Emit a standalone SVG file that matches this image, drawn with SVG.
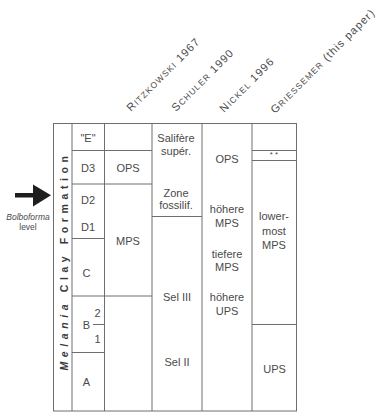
<svg xmlns="http://www.w3.org/2000/svg" width="378" height="415" viewBox="0 0 378 415">
<style>
.ln{stroke:#6e6e6e;stroke-width:1;fill:none}
.t{font-family:"Liberation Sans",Arial,sans-serif;font-size:11px;fill:#4a4a4a;text-anchor:middle}
.h{font-family:"Liberation Sans",Arial,sans-serif;font-size:11px;fill:#4a4a4a;letter-spacing:1.1px}
.sc{font-size:8.5px}
.side{font-family:"Liberation Sans",Arial,sans-serif;font-size:10.5px;font-weight:bold;fill:#3a3a3a;letter-spacing:4.6px;text-anchor:middle}
</style>
<rect width="378" height="415" fill="#ffffff"/>
<g id="headers">
<text class="h" transform="translate(131,112) rotate(-45)">R<tspan class="sc">ITZKOWSKI</tspan> 1967</text>
<text class="h" transform="translate(176,112) rotate(-45)">S<tspan class="sc">CHULER</tspan> 1990</text>
<text class="h" transform="translate(224,113) rotate(-45)">N<tspan class="sc">ICKEL</tspan> 1996</text>
<text class="h" transform="translate(275,114) rotate(-45)">G<tspan class="sc">RIESSEMER</tspan> (this paper)</text>
</g>
<g id="connectors">
<rect class="ln" x="53.5" y="123.5" width="243" height="287.5"/>
<line class="ln" x1="72" y1="123.5" x2="72" y2="411"/>
<line class="ln" x1="104.5" y1="123.5" x2="104.5" y2="411"/>
<line class="ln" x1="152" y1="123.5" x2="152" y2="411"/>
<line class="ln" x1="202" y1="123.5" x2="202" y2="411"/>
<line class="ln" x1="252" y1="123.5" x2="252" y2="411"/>
<line class="ln" x1="72" y1="150.5" x2="152" y2="150.5"/>
<line class="ln" x1="72" y1="184" x2="152" y2="184"/>
<line class="ln" x1="72" y1="238.5" x2="104.5" y2="238.5"/>
<line class="ln" x1="72" y1="296" x2="152" y2="296"/>
<line class="ln" x1="72" y1="352.5" x2="104.5" y2="352.5"/>
<line class="ln" x1="93" y1="324.5" x2="104.5" y2="324.5"/>
<line class="ln" x1="152" y1="216.5" x2="202" y2="216.5"/>
<line class="ln" x1="252" y1="150.5" x2="296.5" y2="150.5"/>
<line class="ln" x1="252" y1="160.5" x2="296.5" y2="160.5"/>
<line class="ln" x1="252" y1="324.5" x2="296.5" y2="324.5"/>
</g>
<g id="side-label">
<text class="side" transform="translate(67.5,261) rotate(-90)"><tspan font-style="italic">Melania</tspan> Clay Formation</text>
</g>
<g id="bolboforma">
<rect x="15" y="193" width="19" height="4.5" fill="#1e1e1e"/>
<polygon points="33,184.5 51,195.3 33,206.5" fill="#1e1e1e"/>
<text class="t" x="28" y="220" style="font-size:8.5px;font-style:italic">Bolboforma</text>
<text class="t" x="28" y="230" style="font-size:8.5px">level</text>
</g>
<g id="col-units">
<text class="t" x="88" y="141.5">"E"</text>
<text class="t" x="88" y="172">D3</text>
<text class="t" x="88" y="204">D2</text>
<text class="t" x="88" y="230.5">D1</text>
<text class="t" x="86.5" y="276.5">C</text>
<text class="t" x="86.5" y="329">B</text>
<text class="t" x="97.5" y="317">2</text>
<text class="t" x="97.5" y="343">1</text>
<text class="t" x="86.5" y="385.5">A</text>
</g>
<g id="col-ritzkowski">
<text class="t" x="128" y="172">OPS</text>
<text class="t" x="128" y="245">MPS</text>
</g>
<g id="col-schuler">
<text class="t" x="176" y="142">Salifère</text>
<text class="t" x="176" y="155">supér.</text>
<text class="t" x="176" y="197">Zone</text>
<text class="t" x="176" y="208.5">fossilif.</text>
<text class="t" x="177" y="301">Sel III</text>
<text class="t" x="177" y="366">Sel II</text>
</g>
<g id="col-nickel">
<text class="t" x="227" y="163">OPS</text>
<text class="t" x="227" y="213">höhere</text>
<text class="t" x="227" y="226.5">MPS</text>
<text class="t" x="227" y="258">tiefere</text>
<text class="t" x="227" y="271">MPS</text>
<text class="t" x="227" y="301">höhere</text>
<text class="t" x="227" y="315">UPS</text>
</g>
<g id="col-griessemer">
<text class="t" x="274" y="157" style="font-size:8px">* *</text>
<text class="t" x="274" y="220">lower-</text>
<text class="t" x="274" y="234.5">most</text>
<text class="t" x="274" y="249">MPS</text>
<text class="t" x="274.5" y="373">UPS</text>
</g>
</svg>
